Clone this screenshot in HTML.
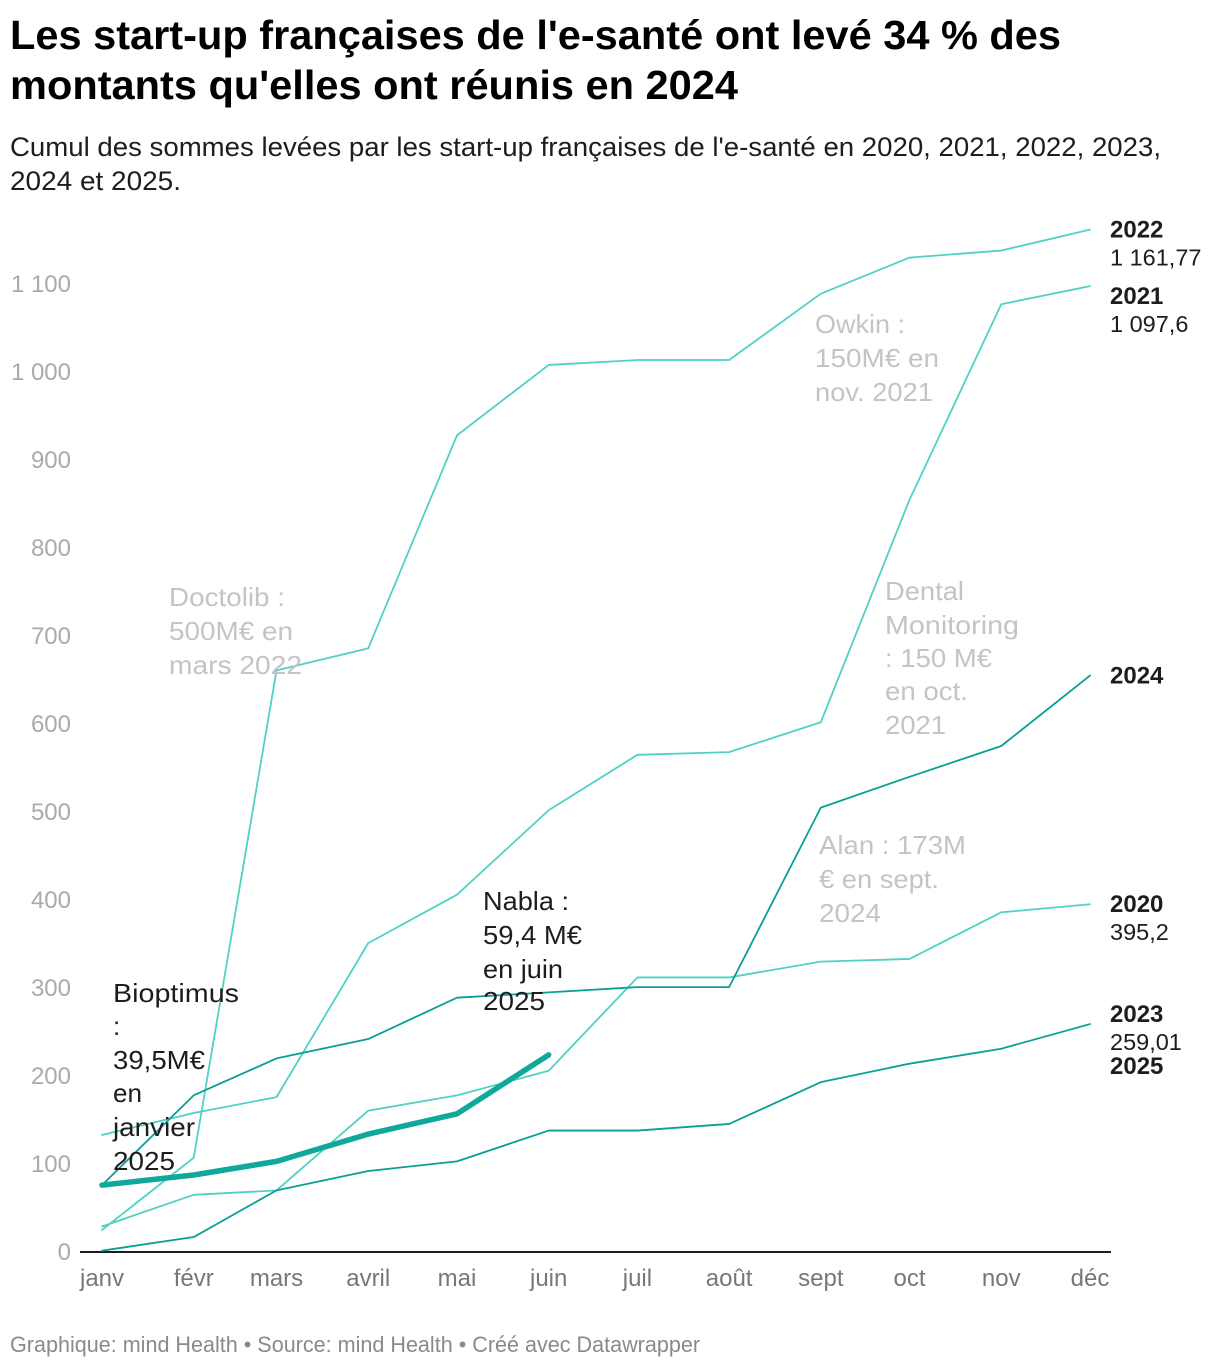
<!DOCTYPE html>
<html lang="fr">
<head>
<meta charset="utf-8">
<title>Levées de fonds e-santé</title>
<style>
html,body{margin:0;padding:0;background:#fff;}
svg{display:block;}
text{font-family:"Liberation Sans",sans-serif;}
.title{font-size:40.5px;font-weight:700;fill:#000;}
.sub{font-size:27px;fill:#1d1d1d;}
.foot{font-size:22.5px;fill:#8a8a8a;}
.ann{font-size:26px;fill:#c4c4c4;}
.ann-dark{font-size:26px;fill:#1d1d1d;}
.ytick{font-size:24px;fill:#aaaaaa;}
.xtick{font-size:24px;fill:#777777;}
.lab-b{font-size:24px;font-weight:700;fill:#1d1d1d;}
.lab{font-size:23.5px;fill:#1d1d1d;}
</style>
</head>
<body>
<svg id="chart" width="1220" height="1368" viewBox="0 0 1220 1368" xmlns="http://www.w3.org/2000/svg">
  <g>
    <text class="title" x="10" y="49" textLength="1051" lengthAdjust="spacingAndGlyphs">Les start-up françaises de l'e-santé ont levé 34 % des</text>
    <text class="title" x="10" y="99" textLength="728" lengthAdjust="spacingAndGlyphs">montants qu'elles ont réunis en 2024</text>
  </g>
  <g>
    <text class="sub" x="10" y="156" textLength="1151" lengthAdjust="spacingAndGlyphs">Cumul des sommes levées par les start-up françaises de l'e-santé en 2020, 2021, 2022, 2023,</text>
    <text class="sub" x="10" y="190" textLength="171" lengthAdjust="spacingAndGlyphs">2024 et 2025.</text>
  </g>

  <g id="y-axis"></g>
  <g id="x-axis"></g>
  <g id="series"></g>
  <g id="end-labels"></g>

  <g>
    <text class="ann" x="169" y="606" textLength="116" lengthAdjust="spacingAndGlyphs">Doctolib :</text>
    <text class="ann" x="169" y="640" textLength="124" lengthAdjust="spacingAndGlyphs">500M€ en</text>
    <text class="ann" x="169" y="674" textLength="133" lengthAdjust="spacingAndGlyphs">mars 2022</text>
  </g>
  <g>
    <text class="ann" x="815" y="333" textLength="90" lengthAdjust="spacingAndGlyphs">Owkin :</text>
    <text class="ann" x="815" y="367" textLength="124" lengthAdjust="spacingAndGlyphs">150M€ en</text>
    <text class="ann" x="815" y="401" textLength="118" lengthAdjust="spacingAndGlyphs">nov. 2021</text>
  </g>
  <g>
    <text class="ann" x="885" y="600" textLength="79" lengthAdjust="spacingAndGlyphs">Dental</text>
    <text class="ann" x="885" y="634" textLength="134" lengthAdjust="spacingAndGlyphs">Monitoring</text>
    <text class="ann" x="885" y="667" textLength="107" lengthAdjust="spacingAndGlyphs">: 150 M€</text>
    <text class="ann" x="885" y="700" textLength="83" lengthAdjust="spacingAndGlyphs">en oct.</text>
    <text class="ann" x="885" y="734" textLength="61" lengthAdjust="spacingAndGlyphs">2021</text>
  </g>
  <g>
    <text class="ann" x="819" y="854" textLength="147" lengthAdjust="spacingAndGlyphs">Alan : 173M</text>
    <text class="ann" x="819" y="888" textLength="120" lengthAdjust="spacingAndGlyphs">€ en sept.</text>
    <text class="ann" x="819" y="922" textLength="62" lengthAdjust="spacingAndGlyphs">2024</text>
  </g>
  <g>
    <text class="ann-dark" x="483" y="910" textLength="86" lengthAdjust="spacingAndGlyphs">Nabla :</text>
    <text class="ann-dark" x="483" y="944" textLength="99" lengthAdjust="spacingAndGlyphs">59,4 M€</text>
    <text class="ann-dark" x="483" y="978" textLength="80" lengthAdjust="spacingAndGlyphs">en juin</text>
    <text class="ann-dark" x="483" y="1010" textLength="62" lengthAdjust="spacingAndGlyphs">2025</text>
  </g>
  <g>
    <text class="ann-dark" x="113" y="1002" textLength="126" lengthAdjust="spacingAndGlyphs">Bioptimus</text>
    <text class="ann-dark" x="113" y="1035">:</text>
    <text class="ann-dark" x="113" y="1069" textLength="92" lengthAdjust="spacingAndGlyphs">39,5M€</text>
    <text class="ann-dark" x="113" y="1102" textLength="29" lengthAdjust="spacingAndGlyphs">en</text>
    <text class="ann-dark" x="113" y="1136" textLength="82" lengthAdjust="spacingAndGlyphs">janvier</text>
    <text class="ann-dark" x="113" y="1170" textLength="62" lengthAdjust="spacingAndGlyphs">2025</text>
  </g>

  <text class="foot" x="10" y="1352" textLength="690" lengthAdjust="spacingAndGlyphs">Graphique: mind Health • Source: mind Health • Créé avec Datawrapper</text>
</svg>

<script>
// Chart data
const months = ['janv','févr','mars','avril','mai','juin','juil','août','sept','oct','nov','déc'];
const monthLengths = [31,28,31,30,31,30,31,31,30,31,30];
const yTicks = [0,100,200,300,400,500,600,700,800,900,1000,1100];
const yTickLabels = ['0','100','200','300','400','500','600','700','800','900','1 000','1 100'];
const values2020 = [29,65,70,160.6,178,206,312,312,330,333,386,395.2];
const values2021 = [133,158,176,351,406,502,565,568,602,855,1077,1097.6];
const values2022 = [25,107,661,686,928,1008,1013.6,1013.6,1089,1130,1138,1161.77];
const values2023 = [1.5,17,70,92,103,138,138,145.5,193,214,231,259.01];
const values2024 = [76,178,220,242,289,295,301,301,505,540,575,655];
const values2025 = [76,87.5,103,134,157,224];
const seriesNames = ['2020','2021','2022','2023','2024','2025'];
const endValueLabels = ['395,2','1 097,6','1 161,77','259,01','',''];

const NS = 'http://www.w3.org/2000/svg';
const LIGHT = '#4fd1c5';
const DARK = '#0a9f96';
const THICK = '#0fa89b';

// Axis functions
const plot = {left:102, right:1090, zero:1252, pxPerUnit:0.88};
const totalDays = monthLengths.reduce(function(a,b){return a+b;},0);
function dayOfMonth(i){
  let d = 0;
  for (let k = 0; k < i; k++) d += monthLengths[k];
  return d;
}
function xScale(i){ return plot.left + dayOfMonth(i) / totalDays * (plot.right - plot.left); }
function yScale(v){ return plot.zero - v * plot.pxPerUnit; }

function makeText(cls, x, y, anchor, str){
  const t = document.createElementNS(NS,'text');
  t.setAttribute('class',cls);
  t.setAttribute('x',x);
  t.setAttribute('y',y);
  t.setAttribute('text-anchor',anchor);
  t.textContent = str;
  return t;
}

// Y axis
const yGroup = document.getElementById('y-axis');
yTicks.forEach(function(v,i){
  const t = makeText('ytick', 71, yScale(v) + 8, 'end', yTickLabels[i]);
  
  
  yGroup.appendChild(t);
});

// X axis
const xGroup = document.getElementById('x-axis');
const axisLine = document.createElementNS(NS,'line');
axisLine.setAttribute('x1',80);
axisLine.setAttribute('x2',1111);
axisLine.setAttribute('y1',yScale(0));
axisLine.setAttribute('y2',yScale(0));
axisLine.setAttribute('stroke','#1d1d1d');
axisLine.setAttribute('stroke-width',2);


xGroup.appendChild(axisLine);
months.forEach(function(m,i){
  const t = makeText('xtick', xScale(i), 1286, 'middle', m);
  
  
  xGroup.appendChild(t);
});

// Series lines
function drawLine(values, color, width, name){
  const p = document.createElementNS(NS,'polyline');
  const pts = values.map(function(v,i){ return xScale(i).toFixed(2) + ',' + yScale(v).toFixed(2); });
  p.setAttribute('points', pts.join(' '));
  p.setAttribute('fill','none');
  p.setAttribute('stroke',color);
  p.setAttribute('stroke-width',width);
  p.setAttribute('stroke-linejoin','round');
  p.setAttribute('stroke-linecap','round');
  
  
  document.getElementById('series').appendChild(p);
}
drawLine(values2020, LIGHT, 1.8, 'line-2020');
drawLine(values2021, LIGHT, 1.8, 'line-2021');
drawLine(values2022, LIGHT, 1.8, 'line-2022');
drawLine(values2023, DARK, 1.8, 'line-2023');
drawLine(values2024, DARK, 1.8, 'line-2024');
drawLine(values2025, THICK, 5.5, 'line-2025');

// End labels (year positioned from each series' last value, nudged to avoid overlaps)
const endGroup = document.getElementById('end-labels');
function endLabel(seriesIndex, values, yearOffset){
  const y = yScale(values[values.length - 1]);
  const yr = makeText('lab-b', 1110, y + yearOffset, 'start', seriesNames[seriesIndex]);
  
  
  endGroup.appendChild(yr);
  if (endValueLabels[seriesIndex]) {
    const val = makeText('lab', 1110, y + yearOffset + 28, 'start', endValueLabels[seriesIndex]);
    
    
    endGroup.appendChild(val);
  }
}
endLabel(0, values2020, 8);
endLabel(1, values2021, 18);
endLabel(2, values2022, 8);
endLabel(3, values2023, -2);
endLabel(4, values2024, 8);
const label2025 = makeText('lab-b', 1110, 1074, 'start', seriesNames[5]);


endGroup.appendChild(label2025);
</script>
</body>
</html>
